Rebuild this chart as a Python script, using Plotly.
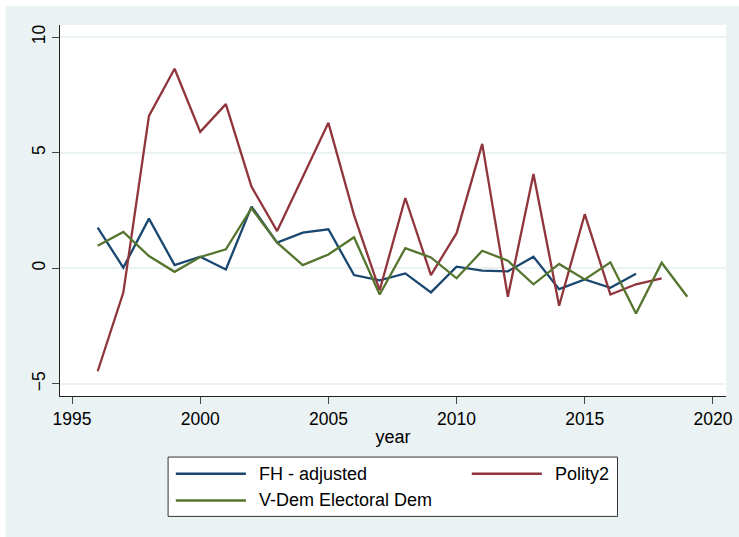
import plotly.graph_objects as go

# Year-on-year change in democracy scores
years_fh = list(range(1996, 2018))
fh_adjusted = [1.76, 0.03, 2.15, 0.14, 0.50, -0.05, 2.67, 1.11, 1.54, 1.69, -0.29,
               -0.52, -0.22, -1.04, 0.07, -0.10, -0.13, 0.50, -0.90, -0.48, -0.84, -0.23]

years_polity = list(range(1996, 2019))
polity2 = [-4.45, -1.05, 6.59, 8.63, 5.90, 7.10, 3.53, 1.61, 3.95, 6.29, 2.30,
           -0.95, 3.04, -0.29, 1.52, 5.38, -1.23, 4.08, -1.62, 2.34, -1.13, -0.69, -0.43]

years_vdem = list(range(1996, 2020))
vdem_electoral = [0.98, 1.57, 0.53, -0.15, 0.49, 0.82, 2.60, 1.11, 0.14, 0.60, 1.34,
                  -1.13, 0.87, 0.47, -0.43, 0.76, 0.33, -0.69, 0.19, -0.48, 0.26, -1.95, 0.24, -1.23]

series_names = ["FH - adjusted", "Polity2", "V-Dem Electoral Dem"]
series_colors = ["#1a476f", "#90353b", "#55752f"]

x_ticks = [1995, 2000, 2005, 2010, 2015, 2020]
y_ticks = [-5, 0, 5, 10]

W, H = 739, 537
L, R, T, B = 60.3, 13.3, 25, 141.3
PW, PH = W - L - R, H - T - B
FONT = "Liberation Sans, Arial, sans-serif"
BG = "#eaf2f3"


def px_x(px):
    return (px - L) / PW


def px_y(py):
    return (H - B - py) / PH


fig = go.Figure()
for xs, ys, name, color in zip([years_fh, years_polity, years_vdem],
                               [fh_adjusted, polity2, vdem_electoral],
                               series_names, series_colors):
    fig.add_trace(go.Scatter(x=xs, y=ys, mode="lines", name=name,
                             line=dict(color=color, width=2.3), showlegend=False))

shapes = [
    # outer graph region
    dict(type="rect", xref="paper", yref="paper", x0=px_x(6), x1=px_x(W + 2),
         y0=px_y(H + 2), y1=px_y(6), fillcolor=BG, line=dict(width=0), layer="below"),
    # plot region
    dict(type="rect", xref="paper", yref="paper", x0=0, x1=1, y0=0, y1=1,
         fillcolor="white", line=dict(width=0), layer="below"),
    # legend box
    dict(type="rect", xref="paper", yref="paper", x0=px_x(168.3), x1=px_x(617.3),
         y0=px_y(516), y1=px_y(456.7), fillcolor="white",
         line=dict(color="#333333", width=1)),
]

annotations = []
legend_slots = [(176, 256.7, 473.3), (471.7, 552.7, 473.3), (176, 256.7, 500)]
for (lx, tx, ly), name, color in zip(legend_slots, series_names, series_colors):
    shapes.append(dict(type="line", xref="paper", yref="paper",
                       x0=px_x(lx), x1=px_x(lx + 70), y0=px_y(ly), y1=px_y(ly),
                       line=dict(color=color, width=2.5)))
    annotations.append(dict(xref="paper", yref="paper", x=px_x(tx), y=px_y(ly),
                            text=name, showarrow=False, xanchor="left", yanchor="middle",
                            font=dict(family=FONT, size=18, color="black")))

fig.update_layout(
    width=W, height=H,
    margin=dict(l=L, r=R, t=T, b=B, pad=0),
    paper_bgcolor="white",
    plot_bgcolor="white",
    font=dict(family=FONT, size=17.5, color="black"),
    shapes=shapes,
    annotations=annotations,
    showlegend=False,
    xaxis=dict(range=[1994.53, 2020.51], tickvals=x_ticks, ticks="outside", ticklen=7,
               tickcolor="#444444", tickwidth=1, showgrid=False, zeroline=False,
               showline=True, linecolor="#222222", linewidth=1, automargin=False,
               title=dict(text="year", font=dict(size=18), standoff=2)),
    yaxis=dict(range=[-5.52, 10.52], tickvals=y_ticks, ticks="outside", ticklen=7,
               tickcolor="#444444", tickwidth=1, tickangle=-90, automargin=False,
               showgrid=True, gridcolor=BG, gridwidth=1.5, zeroline=False,
               showline=True, linecolor="#222222", linewidth=1),
)

fig.write_html("out.html")
